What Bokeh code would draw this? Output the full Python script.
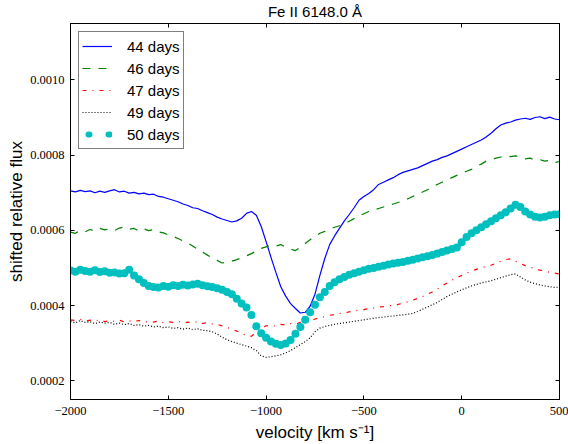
from bokeh.plotting import figure
from bokeh.models import (Range1d, FixedTicker, LinearAxis, CustomJSTickFormatter,
                          Legend, LegendItem, CustomLabelingPolicy)
from bokeh.embed import file_html
from bokeh.resources import INLINE
import numpy as np

# ---------------- data (flux in units of 1e-4) ----------------
velocity = [
    -2000, -1975, -1950, -1925, -1900, -1875, -1850, -1825, -1800, -1775,
    -1750, -1725, -1700, -1675, -1650, -1625, -1600, -1575, -1550, -1525,
    -1500, -1475, -1450, -1425, -1400, -1375, -1350, -1325, -1300, -1275,
    -1250, -1225, -1200, -1175, -1150, -1125, -1100, -1075, -1050, -1025,
    -1000, -975, -950, -925, -900, -875, -850, -825, -800, -775,
    -750, -725, -700, -675, -650, -625, -600, -575, -550, -525,
    -500, -475, -450, -425, -400, -375, -350, -325, -300, -275,
    -250, -225, -200, -175, -150, -125, -100, -75, -50, -25,
    0, 25, 50, 75, 100, 125, 150, 175, 200, 225,
    250, 275, 300, 325, 350, 375, 400, 425, 450, 475,
    500]

flux_44 = [
    7.05, 7.02, 7.06, 7.03, 7.05, 7.00, 7.04, 7.01, 7.05, 7.08,
    7.02, 7.04, 6.99, 7.01, 6.97, 6.99, 6.95, 6.96, 6.90, 6.88,
    6.84, 6.80, 6.76, 6.70, 6.66, 6.60, 6.58, 6.52, 6.47, 6.42,
    6.35, 6.30, 6.26, 6.22, 6.25, 6.32, 6.45, 6.50, 6.40, 6.10,
    5.70, 5.28, 4.88, 4.50, 4.25, 4.05, 3.92, 3.80, 3.82, 3.98,
    4.30, 4.80, 5.25, 5.62, 5.85, 6.05, 6.25, 6.42, 6.60, 6.80,
    6.90, 6.98, 7.08, 7.22, 7.28, 7.34, 7.40, 7.48, 7.54, 7.58,
    7.62, 7.66, 7.72, 7.78, 7.84, 7.88, 7.94, 7.98, 8.04, 8.10,
    8.16, 8.22, 8.28, 8.34, 8.40, 8.48, 8.58, 8.70, 8.80, 8.85,
    8.88, 8.93, 8.96, 8.98, 8.95, 9.00, 9.02, 8.97, 9.01, 8.96,
    8.94]

flux_46 = [
    5.95, 5.92, 6.00, 5.96, 6.02, 5.98, 6.05, 6.01, 6.04, 5.99,
    6.06, 6.09, 6.03, 6.05, 5.98, 6.04, 5.99, 6.02, 5.96, 5.93,
    5.88, 5.84, 5.78, 5.72, 5.66, 5.58, 5.50, 5.42, 5.34, 5.26,
    5.20, 5.13, 5.15, 5.18, 5.22, 5.27, 5.32, 5.38, 5.45, 5.52,
    5.56, 5.60, 5.58, 5.62, 5.55, 5.50, 5.46, 5.55, 5.65, 5.75,
    5.84, 5.92, 5.97, 6.03, 6.08, 6.12, 6.18, 6.24, 6.31, 6.38,
    6.44, 6.50, 6.54, 6.58, 6.62, 6.66, 6.70, 6.74, 6.78, 6.84,
    6.90, 6.96, 7.02, 7.08, 7.16, 7.22, 7.28, 7.34, 7.40, 7.46,
    7.52, 7.57, 7.62, 7.70, 7.76, 7.84, 7.88, 7.92, 7.95, 7.98,
    7.96, 7.98, 7.94, 7.90, 7.92, 7.86, 7.88, 7.84, 7.86, 7.80,
    7.83]

flux_47 = [
    3.62, 3.60, 3.63, 3.58, 3.61, 3.59, 3.62, 3.57, 3.60, 3.58,
    3.61, 3.56, 3.59, 3.57, 3.60, 3.55, 3.58, 3.56, 3.59, 3.54,
    3.57, 3.55, 3.58, 3.53, 3.56, 3.54, 3.57, 3.52, 3.55, 3.51,
    3.50, 3.46, 3.42, 3.37, 3.32, 3.26, 3.20, 3.18, 3.30, 3.40,
    3.46, 3.47, 3.45, 3.50, 3.48, 3.52, 3.50, 3.55, 3.58, 3.62,
    3.64, 3.68, 3.70, 3.74, 3.76, 3.79, 3.80, 3.83, 3.85, 3.88,
    3.89, 3.92, 3.93, 3.96, 3.97, 3.99, 4.01, 4.03, 4.06, 4.10,
    4.14, 4.19, 4.24, 4.30, 4.36, 4.44, 4.52, 4.60, 4.67, 4.74,
    4.80, 4.86, 4.92, 4.96, 5.00, 5.04, 5.07, 5.12, 5.18, 5.22,
    5.24, 5.18, 5.12, 5.06, 5.02, 4.98, 4.94, 4.92, 4.88, 4.86,
    4.84]

flux_49 = [
    3.58, 3.54, 3.60, 3.55, 3.57, 3.52, 3.56, 3.53, 3.55, 3.50,
    3.53, 3.49, 3.52, 3.47, 3.49, 3.45, 3.47, 3.43, 3.45, 3.41,
    3.43, 3.39, 3.41, 3.37, 3.40, 3.36, 3.38, 3.34, 3.33, 3.30,
    3.24, 3.16, 3.09, 3.04, 3.00, 2.96, 2.92, 2.88, 2.80, 2.66,
    2.62, 2.64, 2.66, 2.69, 2.74, 2.80, 2.88, 2.96, 3.04, 3.14,
    3.30, 3.40, 3.44, 3.47, 3.50, 3.52, 3.54, 3.56, 3.58, 3.60,
    3.62, 3.64, 3.66, 3.68, 3.69, 3.71, 3.72, 3.74, 3.75, 3.77,
    3.79, 3.84, 3.90, 3.96, 4.02, 4.08, 4.16, 4.24, 4.30, 4.36,
    4.42, 4.47, 4.52, 4.56, 4.60, 4.63, 4.66, 4.70, 4.74, 4.78,
    4.82, 4.84, 4.76, 4.68, 4.62, 4.58, 4.55, 4.52, 4.50, 4.48,
    4.49]

flux_50 = [
    4.93, 4.90, 4.95, 4.92, 4.90, 4.94, 4.89, 4.91, 4.87, 4.88,
    4.85, 4.86, 4.95, 4.80, 4.70, 4.60, 4.52, 4.49, 4.48, 4.52,
    4.50, 4.54, 4.52, 4.55, 4.53, 4.56, 4.58, 4.54, 4.51, 4.49,
    4.46, 4.42, 4.36, 4.30, 4.18, 4.05, 3.95, 3.75, 3.45, 3.26,
    3.14, 3.04, 2.98, 2.95, 2.99, 3.08, 3.25, 3.43, 3.62, 3.82,
    4.02, 4.22, 4.36, 4.52, 4.62, 4.70, 4.76, 4.82, 4.86, 4.90,
    4.94, 4.98, 5.00, 5.03, 5.06, 5.09, 5.12, 5.14, 5.16, 5.19,
    5.22, 5.25, 5.28, 5.31, 5.34, 5.38, 5.42, 5.46, 5.50, 5.54,
    5.68, 5.82, 5.92, 6.00, 6.08, 6.16, 6.24, 6.32, 6.40, 6.48,
    6.58, 6.68, 6.62, 6.50, 6.42, 6.36, 6.34, 6.36, 6.40, 6.42,
    6.43]

series_labels = ["44 days", "46 days", "47 days", "49 days", "50 days"]
x_ticks = [-2000, -1500, -1000, -500, 0, 500]
y_ticks = [2, 4, 6, 8, 10]          # in units of 1e-4
UNIT = 1e-4

# ---------------- figure ----------------
p = figure(width=568, height=444, output_backend="svg", toolbar_location=None,
           x_range=Range1d(-2000, 500), y_range=Range1d(1.5 * UNIT, 11.5 * UNIT),
           min_border_left=70, min_border_right=9, min_border_top=22,
           min_border_bottom=44, title="Fe II 6148.0 Å")
p.background_fill_color = "white"
p.border_fill_color = "white"
p.outline_line_color = "black"
p.outline_line_width = 1
p.xgrid.visible = False
p.ygrid.visible = False

p.title.text_font = "Liberation Sans"
p.title.text_font_size = "15px"
p.title.text_font_style = "normal"
p.title.align = "center"
p.title.standoff = 0
p.title.text_color = "black"

xt = FixedTicker(ticks=x_ticks)
yt = FixedTicker(ticks=[v * UNIT for v in y_ticks])
xfmt = CustomJSTickFormatter(code="return tick < 0 ? '\u2212' + Math.abs(tick) : tick.toString();")
yfmt = CustomJSTickFormatter(code="return tick.toFixed(4);")

def style_axis(ax):
    ax.major_tick_in = 4
    ax.major_tick_out = 0
    ax.minor_tick_line_color = None
    ax.axis_line_color = "black"
    ax.major_tick_line_color = "black"
    ax.major_label_text_font = "Liberation Serif"
    ax.major_label_text_font_size = "12.5px"
    ax.major_label_text_color = "black"
    ax.axis_label_text_font = "Liberation Sans"
    ax.axis_label_text_font_size = "17px"
    ax.axis_label_text_font_style = "normal"
    ax.axis_label_text_color = "black"

xa = p.xaxis[0]
style_axis(xa)
xa.ticker = xt
xa.formatter = xfmt
xa.axis_label = "velocity [km s\u207b\u00b9]"
xa.major_label_standoff = 7
xa.axis_label_standoff = 5

ya = p.yaxis[0]
style_axis(ya)
ya.ticker = yt
ya.formatter = yfmt
ya.axis_label = "shifted relative flux"
ya.major_label_standoff = 6
ya.axis_label_standoff = 1

# mirrored tick marks on the top and right frame edges (no labels)
top = LinearAxis(ticker=xt, formatter=xfmt)
style_axis(top)
top.major_label_policy = CustomLabelingPolicy(code="return;")
top.major_label_text_font_size = "1px"
top.major_label_standoff = 0
right = LinearAxis(ticker=yt, formatter=yfmt)
style_axis(right)
right.major_label_policy = CustomLabelingPolicy(code="return;")
right.major_label_text_font_size = "1px"
right.major_label_standoff = 0
p.add_layout(top, "above")
p.add_layout(right, "right")

y44 = np.array(flux_44) * UNIT
y46 = np.array(flux_46) * UNIT
y47 = np.array(flux_47) * UNIT
y49 = np.array(flux_49) * UNIT
y50 = np.array(flux_50) * UNIT

r44 = p.line(velocity, y44, line_color="#0000ff", line_width=1.2)
r46 = p.line(velocity, y46, line_color="#008000", line_width=1.2, line_dash="8 8")
r47 = p.line(velocity, y47, line_color="#ff0000", line_width=1.2, line_dash="4 6 1 6")
r49 = p.line(velocity, y49, line_color="#000000", line_width=1.2, line_dash="1 2")
r50 = p.scatter(velocity, y50, size=8, fill_color="#00bfbf", line_color=None)
# legend swatch for the marker series (two dots, like the reference legend);
# it holds one NaN point, so it draws nothing inside the plot
r50_key = p.line(x=[velocity[0]], y=[float("nan")], line_color="#00bfbf", line_width=6,
                 line_dash="1 19", line_cap="round", line_dash_offset=14)

legend = Legend(items=[LegendItem(label=series_labels[0], renderers=[r44]),
                       LegendItem(label=series_labels[1], renderers=[r46]),
                       LegendItem(label=series_labels[2], renderers=[r47]),
                       LegendItem(label=series_labels[3], renderers=[r49]),
                       LegendItem(label=series_labels[4], renderers=[r50_key])],
                location="top_left", margin=8, padding=3, spacing=0,
                glyph_width=30, glyph_height=22, label_height=22, label_standoff=15,
                label_text_font="Liberation Sans", label_text_font_size="15px",
                label_text_color="black",
                border_line_color="black", border_line_width=1,
                background_fill_color="white", background_fill_alpha=1)
p.add_layout(legend)

open("out.html", "w").write(file_html(p, INLINE))
